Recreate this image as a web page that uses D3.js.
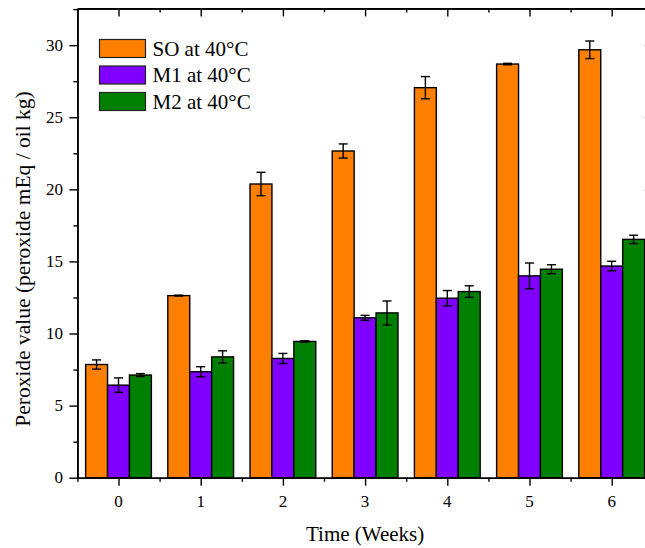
<!DOCTYPE html>
<html>
<head>
<meta charset="utf-8">
<script src="https://cdn.jsdelivr.net/npm/d3@7"></script>
<style>
  html, body { margin: 0; padding: 0; background: #fff; }
  svg { display: block; }
  .lbl { font-family: "Liberation Serif", "Times New Roman", serif; fill: #000; }
</style>
</head>
<body>
<svg id="chart" width="645" height="548"></svg>
<script>
// ---- data ----
const weeks = [0, 1, 2, 3, 4, 5, 6];
const seriesNames = ["SO at 40°C", "M1 at 40°C", "M2 at 40°C"];
const seriesColors = ["#FF8000", "#8000FF", "#008000"];
const soValues = [7.85, 12.63, 20.37, 22.66, 27.05, 28.69, 29.68];
const soErrors = [0.32, 0.03, 0.81, 0.49, 0.77, 0.05, 0.61];
const m1Values = [6.42, 7.35, 8.27, 11.09, 12.45, 14.0, 14.68];
const m1Errors = [0.50, 0.35, 0.35, 0.17, 0.53, 0.89, 0.33];
const m2Values = [7.12, 8.38, 9.45, 11.43, 12.91, 14.46, 16.53];
const m2Errors = [0.10, 0.42, 0.05, 0.83, 0.40, 0.31, 0.29];
const yTickValues = [0, 5, 10, 15, 20, 25, 30];
const yMinorTicks = [2.5, 7.5, 12.5, 17.5, 22.5, 27.5, 32.5];
const xMinorTicks = [-0.5, 0.5, 1.5, 2.5, 3.5, 4.5, 5.5, 6.5];
const xTitle = "Time (Weeks)";
const yTitle = "Peroxide value (peroxide mEq / oil kg)";

const series = [
  { name: seriesNames[0], color: seriesColors[0], values: soValues, errors: soErrors },
  { name: seriesNames[1], color: seriesColors[1], values: m1Values, errors: m1Errors },
  { name: seriesNames[2], color: seriesColors[2], values: m2Values, errors: m2Errors }
];

// ---- layout ----
const plotL = 77.4, plotR = 652.8, plotT = 8.4, plotB = 477.7;
const svg = d3.select("#chart");

const x = d3.scaleLinear().domain([-0.5, 6.5]).range([plotL, plotR]);
const y = d3.scaleLinear().domain([0, 32.55]).range([plotB, plotT]);
const step = x(1) - x(0);
const groupW = step * 0.8;
const barW = groupW / 3;

// ---- bars ----
const gBars = svg.append("g");
series.forEach((s, si) => {
  const g = gBars.append("g");
  g.selectAll("rect").data(weeks).enter().append("rect")
    .attr("x", (d) => x(d) - groupW / 2 + si * barW)
    .attr("y", (d, i) => y(s.values[i]))
    .attr("width", barW)
    .attr("height", (d, i) => y(0) - y(s.values[i]))
    .attr("fill", s.color)
    .attr("stroke", "#000")
    .attr("stroke-width", 1.4);
});

// ---- error bars ----
const capW = 9;
const gErr = svg.append("g").attr("stroke", "#000").attr("stroke-width", 1.4);
series.forEach((s, si) => {
  weeks.forEach((w, i) => {
    const cx = x(w) - groupW / 2 + si * barW + barW / 2;
    const hi = y(s.values[i] + s.errors[i]);
    const lo = y(s.values[i] - s.errors[i]);
    gErr.append("line").attr("x1", cx).attr("x2", cx).attr("y1", hi).attr("y2", lo);
    gErr.append("line").attr("x1", cx - capW / 2).attr("x2", cx + capW / 2).attr("y1", hi).attr("y2", hi);
    gErr.append("line").attr("x1", cx - capW / 2).attr("x2", cx + capW / 2).attr("y1", lo).attr("y2", lo);
  });
});

// ---- axes (lines and ticks) ----
function styleAxis(g) {
  g.selectAll("path.domain").attr("stroke", "#000").attr("stroke-width", 1.6);
  g.selectAll(".tick line").attr("stroke", "#000").attr("stroke-width", 1.4);
  g.selectAll(".tick text").remove();
}
function addAxis(axis, tx, ty) {
  const g = svg.append("g").attr("transform", `translate(${tx},${ty})`).call(axis);
  styleAxis(g);
  return g;
}
addAxis(d3.axisBottom(x).tickValues(xMinorTicks).tickSize(4).tickFormat("").tickSizeOuter(0), 0, plotB);
addAxis(d3.axisBottom(x).tickValues(weeks).tickSize(8).tickFormat("").tickSizeOuter(0), 0, plotB);
addAxis(d3.axisTop(x).tickValues(xMinorTicks).tickSize(-4).tickFormat("").tickSizeOuter(0), 0, plotT);
addAxis(d3.axisTop(x).tickValues(weeks).tickSize(-8).tickFormat("").tickSizeOuter(0), 0, plotT);
addAxis(d3.axisLeft(y).tickValues(yMinorTicks).tickSize(4).tickFormat("").tickSizeOuter(0), plotL, 0);
addAxis(d3.axisLeft(y).tickValues(yTickValues).tickSize(8).tickFormat("").tickSizeOuter(0), plotL, 0);
addAxis(d3.axisRight(y).tickValues(yMinorTicks).tickSize(-4).tickFormat("").tickSizeOuter(0), plotR, 0);
addAxis(d3.axisRight(y).tickValues(yTickValues).tickSize(-8).tickFormat("").tickSizeOuter(0), plotR, 0);

// ---- tick labels ----
svg.append("g").selectAll("text").data(weeks).enter().append("text")
  .attr("class", "lbl")
  .attr("x", (d) => x(d)).attr("y", 507)
  .attr("text-anchor", "middle")
  .style("font-size", "17px")
  .text((d) => d3.format("d")(d));

svg.append("g").selectAll("text").data(yTickValues).enter().append("text")
  .attr("class", "lbl")
  .attr("x", 63).attr("y", (d) => y(d))
  .attr("dy", "0.33em")
  .attr("text-anchor", "end")
  .style("font-size", "17px")
  .text((d) => d3.format("d")(d));

// ---- titles ----
svg.append("text")
  .attr("class", "lbl")
  .attr("x", (plotL + plotR) / 2).attr("y", 541)
  .attr("text-anchor", "middle")
  .style("font-size", "21px")
  .text(xTitle);

svg.append("text")
  .attr("class", "lbl")
  .attr("transform", `translate(30,259) rotate(-90)`)
  .attr("text-anchor", "middle")
  .style("font-size", "21.5px")
  .text(yTitle);

// ---- legend ----
const legend = svg.append("g").attr("transform", "translate(99.5,39.5)");
series.forEach((s, i) => {
  const row = legend.append("g").attr("transform", `translate(0,${i * 26.5})`);
  row.append("rect").attr("x", 0).attr("y", 0).attr("width", 46).attr("height", 18)
    .attr("fill", s.color).attr("stroke", "#222").attr("stroke-width", 1.2);
  row.append("text").attr("class", "lbl").attr("x", 53).attr("y", 16)
    .style("font-size", "21px")
    .text(s.name);
});
</script>
</body>
</html>
